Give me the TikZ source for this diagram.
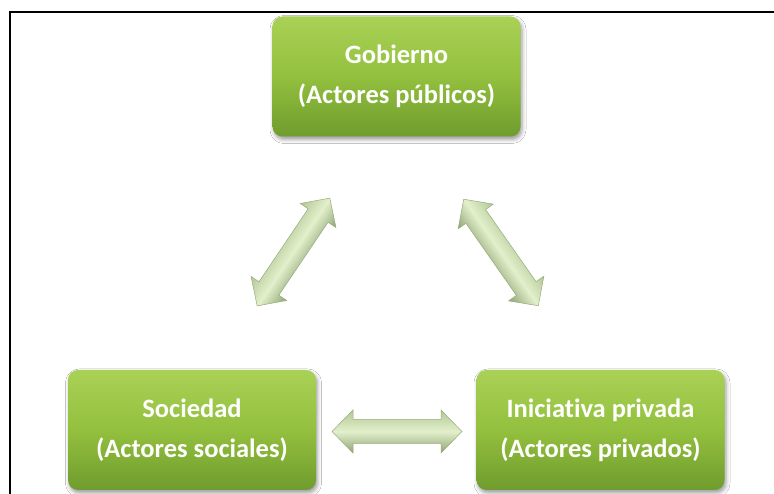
\documentclass[tikz,border=0pt]{standalone}
\usepackage{fontspec}
\setmainfont[Ligatures=NoCommon]{Carlito}
\usetikzlibrary{shadows.blur}
\definecolor{boxtop}{HTML}{A9D156}
\definecolor{boxmid}{HTML}{93C03E}
\definecolor{boxbot}{HTML}{6F9C2D}
\definecolor{arrtop}{HTML}{B3C797}
\definecolor{arrmid}{HTML}{E2F0CB}
\definecolor{arrbot}{HTML}{8FA374}
\definecolor{arredge}{HTML}{98AB7E}
\tikzset{
  actor/.style={rectangle, rounded corners=10pt, minimum width=248pt, minimum height=120pt,
    top color=boxtop, bottom color=boxbot, middle color=boxmid, text=white, align=center,
    font=\fontsize{26.5}{40}\selectfont\bfseries, inner sep=0pt,
    blur shadow={shadow xshift=1.5pt, shadow yshift=-3pt, shadow blur radius=4pt, shadow opacity=40}},
  relarrow/.style={top color=arrtop, bottom color=arrbot, middle color=arrmid, draw=arredge, line width=0.5pt},
  frameline/.style={line width=2pt, black}
}
\newcommand{\dblarrow}[3]{%
  \begin{scope}[transform canvas={shift={(#1,#2)}, rotate=#3}]
    \path[relarrow] (-65,0) -- (-44,21.5) -- (-44,12) -- (44,12) -- (44,21.5) -- (65,0)
      -- (44,-21.5) -- (44,-12) -- (-44,-12) -- (-44,-21.5) -- cycle;
  \end{scope}}
\begin{document}
\begin{tikzpicture}[x=1pt,y=1pt]
\useasboundingbox (0,0) rectangle (774,494);
\fill[white] (0,0) rectangle (774,494);
\draw[frameline] (10,0) -- (10,481.7) -- (774,481.7);
\node[actor] (gob) at (396.5,417.5) {Gobierno\\(Actores públicos)};
\node[actor] (soc) at (192,64) {Sociedad\\(Actores sociales)};
\node[actor] (ini) at (600.5,64) {Iniciativa privada\\(Actores privados)};
\dblarrow{293.5}{242}{56}
\dblarrow{501}{241.5}{-55}
\dblarrow{397}{62.5}{0}
\end{tikzpicture}
\end{document}
